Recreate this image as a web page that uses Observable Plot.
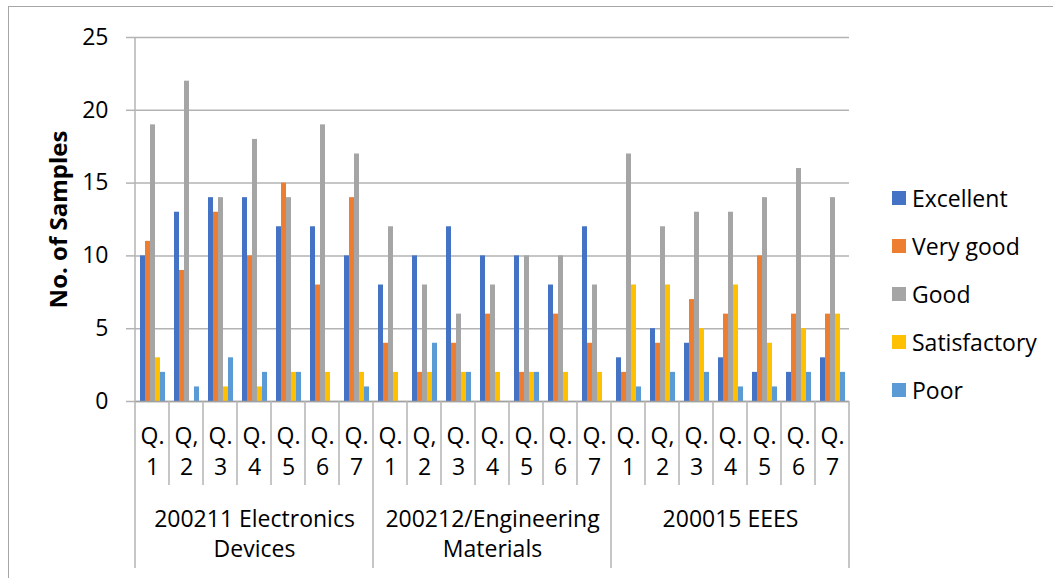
<!DOCTYPE html>
<html>
<head>
<meta charset="utf-8">
<script src="https://cdn.jsdelivr.net/npm/d3@7"></script>
<script src="https://cdn.jsdelivr.net/npm/@observablehq/plot@0.6"></script>
<style>
  html, body { margin: 0; padding: 0; background: #fff; }
  #wrap { position: relative; width: 1053px; height: 578px; overflow: hidden; font-family: "Open Sans", sans-serif; color: #000; }
  #border { position: absolute; left: 8px; top: 6px; width: 1100px; height: 700px; border-left: 1.5px solid #a6a6a6; border-top: 1.5px solid #a6a6a6; box-sizing: border-box; }
  #chart { position: absolute; left: 0; top: 0; }
  #legend { position: absolute; left: 892px; top: 0; }
  .item { position: absolute; left: 0; white-space: nowrap; font-size: 23px; line-height: 30px; display: flex; align-items: center; }
  .sw { display: inline-block; width: 14px; height: 14px; margin-right: 6px; }
</style>
</head>
<body>
<div id="wrap">
  <div id="border"></div>
  <div id="chart"></div>
  <div id="legend"></div>
</div>
<script>
// ---- data ----
const groups = ["200211 Electronics\nDevices", "200212/Engineering\nMaterials", "200015 EEES"];
const questions = ["Q.\n1", "Q,\n2", "Q.\n3", "Q.\n4", "Q.\n5", "Q.\n6", "Q.\n7"];
const seriesNames = ["Excellent", "Very good", "Good", "Satisfactory", "Poor"];
const seriesColors = ["#4472C4", "#ED7D31", "#A5A5A5", "#FFC000", "#5B9BD5"];
const excellent    = [10, 13, 14, 14, 12, 12, 10,   8, 10, 12, 10, 10,  8, 12,   3,  5,  4,  3,  2,  2,  3];
const veryGood     = [11,  9, 13, 10, 15,  8, 14,   4,  2,  4,  6,  2,  6,  4,   2,  4,  7,  6, 10,  6,  6];
const good         = [19, 22, 14, 18, 14, 19, 17,  12,  8,  6,  8, 10, 10,  8,  17, 12, 13, 13, 14, 16, 14];
const satisfactory = [ 3,  0,  1,  1,  2,  2,  2,   2,  2,  2,  2,  2,  2,  2,   8,  8,  5,  8,  4,  5,  6];
const poor         = [ 2,  1,  3,  2,  2,  0,  1,   0,  4,  2,  0,  2,  0,  0,   1,  2,  2,  1,  1,  2,  2];
const yTicks = [0, 5, 10, 15, 20, 25];
const yLabel = "No. of Samples";

// ---- build table ----
const seriesValues = [excellent, veryGood, good, satisfactory, poor];
const keys = [];
const qLabel = {};
groups.forEach((g, gi) => questions.forEach((q, qi) => {
  const k = gi + "-" + qi;
  keys.push(k);
  qLabel[k] = q;
}));
const rows = [];
keys.forEach((k, i) => seriesNames.forEach((s, si) => rows.push({key: k, series: s, value: seriesValues[si][i]})));
const mid = Math.floor(questions.length / 2);
const groupLabels = groups.map((g, gi) => ({key: gi + "-" + mid, label: g}));

const gridColor = "#b3b3b3";

const plot = Plot.plot({
  width: 1053,
  height: 578,
  marginLeft: 135,
  marginRight: 204,
  marginTop: 37,
  marginBottom: 177,
  style: {fontFamily: '"Open Sans", sans-serif', fontSize: "23px", color: "#000", background: "transparent", overflow: "visible"},
  fx: {domain: keys, padding: 0, label: null},
  x: {domain: seriesNames, paddingInner: 0, paddingOuter: 0.72, axis: null},
  y: {domain: [0, 25]},
  color: {domain: seriesNames, range: seriesColors},
  marks: [
    Plot.gridY(yTicks, {stroke: gridColor, strokeOpacity: 1, strokeWidth: 1.5}),
    Plot.barY(rows, {fx: "key", x: "series", y: "value", fill: "series"}),
    Plot.ruleY([0], {stroke: "#a0a0a0", strokeWidth: 1.5}),
    Plot.axisY(yTicks, {tickSize: 9, tickPadding: 18, stroke: gridColor, strokeWidth: 1.5, tickFormat: d => String(d), fontSize: 23,
      label: yLabel, labelAnchor: "center", labelOffset: 86, labelArrow: "none"}),
    Plot.axisFx({anchor: "bottom", tickSize: 0, tickPadding: 20, tickFormat: k => qLabel[k], lineHeight: 1.35, fontSize: 23, label: null}),
    Plot.text(groupLabels, {fx: "key", text: "label", frameAnchor: "bottom", lineAnchor: "top", dy: 104, lineHeight: 1.3, fontSize: 23, fill: "#000"})
  ]
});

document.getElementById("chart").appendChild(plot);

// bold y label
d3.select(plot).selectAll('[aria-label="y-axis label"] text').attr("font-weight", "bold").attr("font-size", 24);

// category separators below the axis, placed with the fx / y scales
const fx = plot.scale("fx");
const y = plot.scale("y");
const y0 = y.apply(0), yTop = y.apply(25);
const sep = d3.select(plot).append("g").attr("stroke", gridColor).attr("stroke-width", 1.5);
keys.forEach((k, i) => {
  const x = fx.apply(k);
  const isGroup = i % questions.length === 0;
  sep.append("line").attr("x1", x).attr("x2", x)
    .attr("y1", i === 0 ? yTop : y0)
    .attr("y2", y0 + (isGroup ? 167 : 84));
});
const xr = fx.apply(keys[keys.length - 1]) + fx.bandwidth;
sep.append("line").attr("x1", xr).attr("x2", xr).attr("y1", y0).attr("y2", y0 + 167);

// legend
const legend = d3.select("#legend");
seriesNames.forEach((s, i) => {
  const it = legend.append("div").attr("class", "item").style("top", (183 + i * 48) + "px");
  it.append("span").attr("class", "sw").style("background", seriesColors[i]);
  it.append("span").text(s);
});
</script>
</body>
</html>
